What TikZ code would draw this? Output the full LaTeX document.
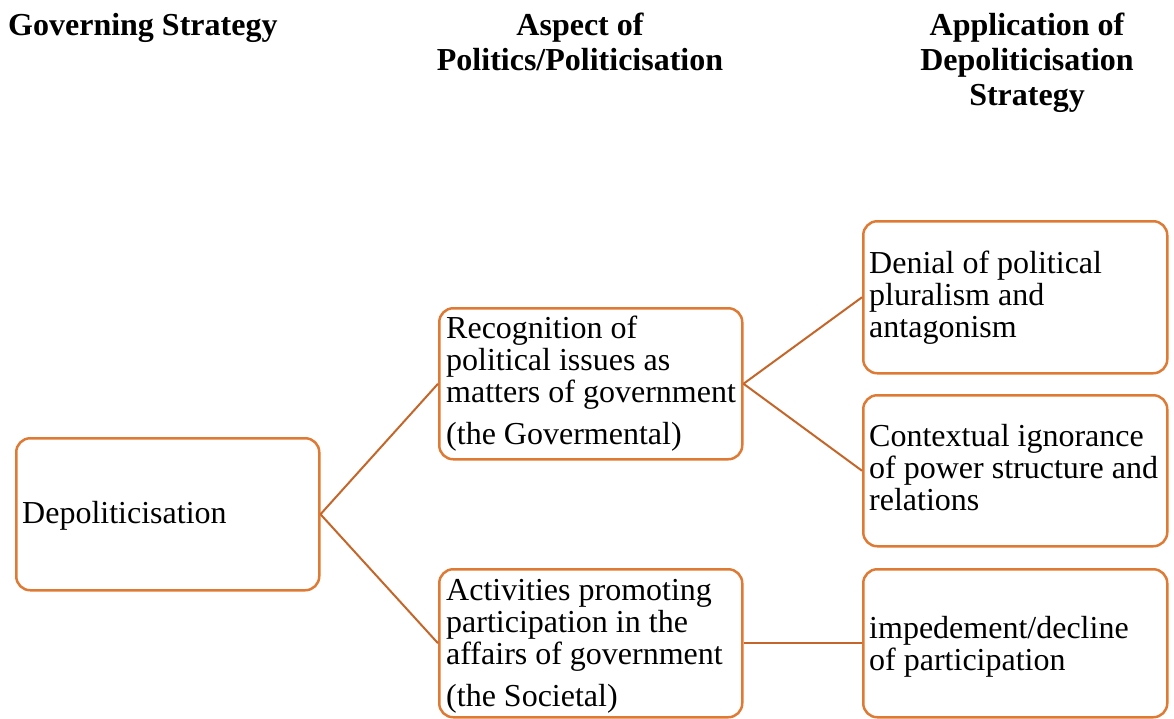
\documentclass[tikz,border=0pt]{standalone}
\usepackage{fontspec}
\setmainfont{Liberation Serif}
\definecolor{boxorange}{RGB}{222,122,52}
\definecolor{lineorange}{RGB}{196,102,42}
\begin{document}
\begin{tikzpicture}[x=1pt,y=-1pt,
  box/.style={draw=boxorange, line width=2.5pt, rounded corners=14pt, inner sep=0pt, anchor=north west},
  txt/.style={font=\fontsize{32}{32}\selectfont, align=left, anchor=base west, inner sep=0pt},
  head/.style={font=\fontsize{32}{35}\bfseries\selectfont, align=center, anchor=base, inner sep=0pt},
  conn/.style={draw=lineorange, line width=2pt}]
\useasboundingbox (0,0) rectangle (1174,718);
% headers (anchor base = baseline of last line)
\node[head, anchor=base west] (h1) at (8,35) {Governing Strategy};
\node[head] (h2) at (580,70) {Aspect of\\Politics/Politicisation};
\node[head] (h3) at (1027,105) {Application of\\Depoliticisation\\Strategy};
% boxes
\node[box, minimum width=303pt, minimum height=152pt] (dep) at (15,437) {};
\node[box, minimum width=303pt, minimum height=151pt] (gov) at (438,307) {};
\node[box, minimum width=303pt, minimum height=148pt] (soc) at (438,568) {};
\node[box, minimum width=304pt, minimum height=152pt] (den) at (862,220) {};
\node[box, minimum width=304pt, minimum height=151pt] (ctx) at (862,394) {};
\node[box, minimum width=304pt, minimum height=148pt] (imp) at (862,568) {};
% texts (anchor base = baseline of last line)
\node[txt] (tdep) at (22,523) {Depoliticisation};
\node[txt] (tgov) at (446,444) {Recognition of\\political issues as\\matters of government\\[10pt](the Govermental)};
\node[txt] (tsoc) at (446,706) {Activities promoting\\participation in the\\affairs of government\\[10pt](the Societal)};
\node[txt] (tden) at (869,337) {Denial of political\\pluralism and\\antagonism};
\node[txt] (tctx) at (869,510) {Contextual ignorance\\of power structure and\\relations};
\node[txt] (timp) at (869,670) {impedement/decline\\of participation};
% connectors
\draw[conn] (dep.east) -- (gov.west);
\draw[conn] (dep.east) -- (soc.west);
\draw[conn] (gov.east) -- (den.west);
\draw[conn] (gov.east) -- (ctx.west);
\draw[conn] (soc.east) -- (imp.west);
\end{tikzpicture}
\end{document}
